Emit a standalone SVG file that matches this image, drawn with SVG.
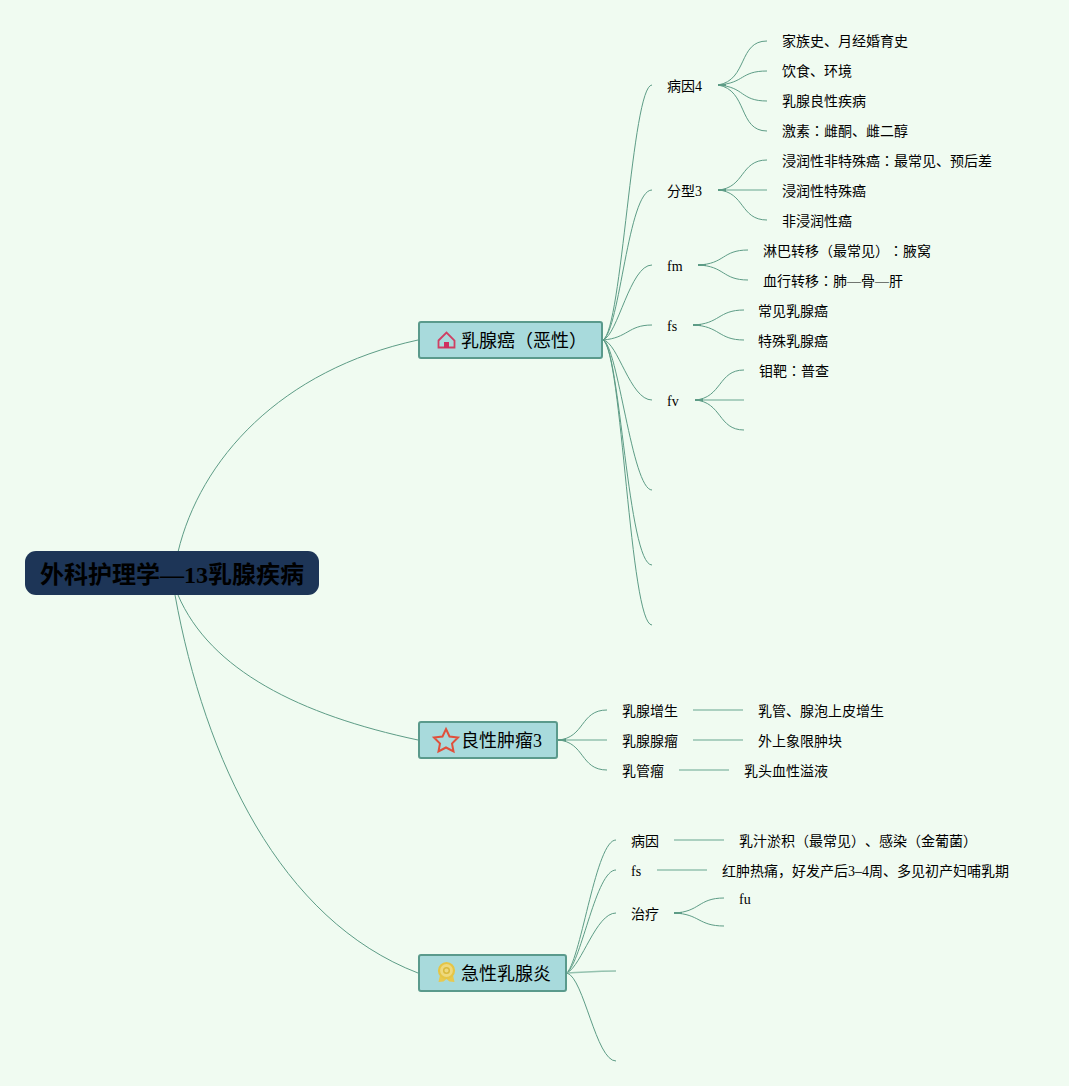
<svg xmlns="http://www.w3.org/2000/svg" width="1069" height="1086" viewBox="0 0 1069 1086">
<style>
text{font-family:"Liberation Serif","Noto Sans CJK SC",serif;font-size:14px;fill:#000;text-spacing-trim:space-all}
.j{font-family:"Noto Sans CJK JP",sans-serif}
.m{font-size:18px}
.r{font-size:24px;font-weight:700}
.b{fill:#a8dadc;stroke:#5a9a8c;stroke-width:2}
#connectors path{fill:none;stroke:#5d9c86;stroke-width:1}
#connectors .s{stroke-width:1.600;stroke:#95c2af}
#connectors .t{stroke-width:2;stroke:#5d9c86}
</style>
<rect width="1069" height="1086" fill="#f0fbf1"/>
<g id="connectors">
<path d="M178 552C200 460 280 370 418 340"/>
<path d="M178 595C210 670 300 715 418 740"/>
<path d="M175 595C205 760 280 920 418 973"/>
<path d="M603 340C622 330 632 85 652 85"/>
<path d="M603 340C620 330 628 190 652 190"/>
<path d="M603 340C618 335 630 265 652 265"/>
<path d="M603 340C628 338 628 325 652 325"/>
<path d="M603 340C618 342 630 400 652 400"/>
<path d="M603 340C618 345 632 490 652 490"/>
<path d="M603 340C620 348 628 565 652 565"/>
<path d="M603 340C622 350 630 625 652 625"/>
<path d="M718 85C748 80 738 41 767 41"/>
<path d="M718 85C745 83 740 71 767 71"/>
<path d="M718 85C745 87 740 101 767 101"/>
<path d="M718 85C748 90 738 131 767 131"/>
<path class="t" d="M718 85H726"/>
<path d="M718 190C745 188 740 160 767 160"/>
<path class="s" d="M718 190H767"/>
<path d="M718 190C745 192 740 220 767 220"/>
<path class="t" d="M718 190H726"/>
<path d="M698 265C725 264 722 250 748 250"/>
<path d="M698 265C725 266 722 280 748 280"/>
<path class="t" d="M698 265H706"/>
<path d="M693 325C720 324 718 310 744 310"/>
<path d="M693 325C720 326 718 340 744 340"/>
<path class="t" d="M693 325H701"/>
<path d="M695 400C722 398 718 370 744 370"/>
<path class="s" d="M695 400H744"/>
<path d="M695 400C722 402 718 430 744 430"/>
<path class="t" d="M695 400H703"/>
<path d="M558 740C585 738 580 710 607 710"/>
<path class="s" d="M558 740H607"/>
<path d="M558 740C585 742 580 770 607 770"/>
<path class="t" d="M558 740H566"/>
<path class="s" d="M693 710H743"/>
<path class="s" d="M693 740H743"/>
<path class="s" d="M679 770H729"/>
<path d="M567 973C582 955 596 840 616 840"/>
<path d="M567 973C582 960 596 870 616 870"/>
<path d="M567 973C582 965 596 913 616 913"/>
<path class="s" d="M567 973C590 972 595 971 616 971"/>
<path d="M567 973C584 978 596 1061 616 1061"/>
<path class="s" d="M674 840H724"/>
<path class="s" d="M657 870H707"/>
<path d="M674 913C700 912 698 898 724 898"/>
<path d="M674 913C700 914 698 926 724 926"/>
<path class="t" d="M674 913H682"/>
</g>
<g id="root"><rect x="25" y="551" width="294" height="44" rx="11" fill="#1d3557"/><text class="r" x="40" y="583">外科护理学—13乳腺疾病</text></g>
<g id="n1"><rect class="b" x="419" y="322" width="183" height="36" rx="2"/>
<path d="M438.500 340.500L446.500 332.500L454.500 340.500V347.500H438.500Z" fill="none" stroke="#cf3f63" stroke-width="1.800"/><rect x="444" y="342" width="5" height="6" fill="#cf2f5f"/>
<text class="m" x="461" y="347">乳腺癌（恶性）</text></g>
<g id="n2"><rect class="b" x="419" y="722" width="138" height="36" rx="2"/>
<path d="M446 729L449.500 736.500L458 737.500L452 743.500L453.500 751.500L446 747.500L438.500 751.500L440 743.500L434 737.500L442.500 736.500Z" fill="none" stroke="#e0503c" stroke-width="2"/>
<text class="m" x="461" y="747">良性肿瘤3</text></g>
<g id="n3"><rect class="b" x="419" y="955" width="147" height="36" rx="2"/>
<path d="M440 975L438.500 982L443.500 981.500L446.500 979L449.500 981.500L454.500 982L453 975Z" fill="#e8c94f"/><circle cx="446.500" cy="970.500" r="7.500" fill="#eed97e" stroke="#e5c545" stroke-width="2.200"/><circle cx="446.500" cy="970.500" r="2.800" fill="none" stroke="#d9b93c" stroke-width="1.500"/>
<text class="m" x="461" y="980">急性乳腺炎</text></g>
<g id="a1"><text x="667" y="91">病因4</text></g>
<g id="a1a"><text x="782" y="46">家族史、月经婚育史</text></g>
<g id="a1b"><text x="782" y="76">饮食、环境</text></g>
<g id="a1c"><text x="782" y="106">乳腺良性疾病</text></g>
<g id="a1d"><text x="782" y="136">激素<tspan class="j">：</tspan>雌酮、雌二醇</text></g>
<g id="a2"><text x="667" y="196">分型3</text></g>
<g id="a2a"><text x="782" y="166">浸润性非特殊癌<tspan class="j">：</tspan>最常见、预后差</text></g>
<g id="a2b"><text x="782" y="196">浸润性特殊癌</text></g>
<g id="a2c"><text x="782" y="226">非浸润性癌</text></g>
<g id="a3"><text x="667" y="271">fm</text></g>
<g id="a3a"><text x="763" y="256">淋巴转移（最常见）<tspan class="j">：</tspan>腋窝</text></g>
<g id="a3b"><text x="763" y="286">血行转移<tspan class="j">：</tspan>肺—骨—肝</text></g>
<g id="a4"><text x="667" y="331">fs</text></g>
<g id="a4a"><text x="758" y="316">常见乳腺癌</text></g>
<g id="a4b"><text x="758" y="346">特殊乳腺癌</text></g>
<g id="a5"><text x="667" y="406">fv</text></g>
<g id="a5a"><text x="759" y="376">钼靶<tspan class="j">：</tspan>普查</text></g>
<g id="b1"><text x="622" y="716">乳腺增生</text></g>
<g id="b1a"><text x="758" y="716">乳管、腺泡上皮增生</text></g>
<g id="b2"><text x="622" y="746">乳腺腺瘤</text></g>
<g id="b2a"><text x="758" y="746">外上象限肿块</text></g>
<g id="b3"><text x="622" y="776">乳管瘤</text></g>
<g id="b3a"><text x="744" y="776">乳头血性溢液</text></g>
<g id="c1"><text x="631" y="846">病因</text></g>
<g id="c1a"><text x="739" y="846">乳汁淤积（最常见）、感染（金葡菌）</text></g>
<g id="c2"><text x="631" y="876">fs</text></g>
<g id="c2a"><text x="722" y="876">红肿热痛，好发产后3–4周、多见初产妇哺乳期</text></g>
<g id="c3"><text x="631" y="919">治疗</text></g>
<g id="c3a"><text x="739" y="904">fu</text></g>
</svg>
